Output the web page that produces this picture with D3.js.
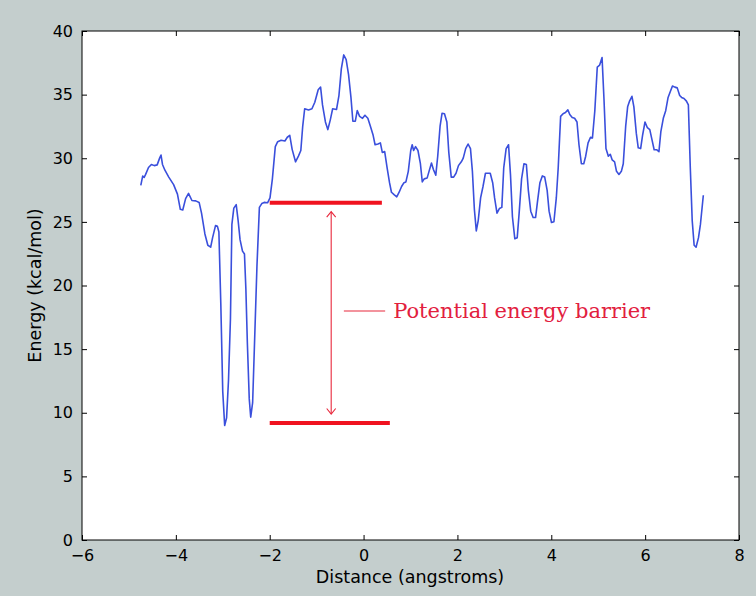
<!DOCTYPE html>
<html>
<head>
<meta charset="utf-8">
<script src="https://cdn.jsdelivr.net/npm/d3@7"></script>
<style>
  html, body { margin: 0; padding: 0; background: #c4cecd; }
  svg { display: block; }
</style>
</head>
<body>
<script>
// ---- Data ----
const distance = [
  -4.747,-4.706,-4.675,-4.644,-4.583,-4.521,-4.459,-4.398,-4.346,-4.316,-4.285,-4.233,-4.151,-4.048,-3.966,-3.905,-3.853,-3.792,-3.730,-3.658,
  -3.576,-3.504,-3.453,-3.381,-3.319,-3.258,-3.217,-3.155,-3.114,-3.083,-3.042,-3.001,-2.960,-2.919,-2.878,-2.837,-2.806,-2.765,-2.714,-2.673,
  -2.632,-2.580,-2.538,-2.508,-2.477,-2.436,-2.405,-2.364,-2.323,-2.272,-2.220,-2.169,-2.118,-2.046,-1.994,-1.943,-1.881,-1.830,-1.758,-1.676,
  -1.625,-1.573,-1.522,-1.450,-1.388,-1.337,-1.296,-1.255,-1.173,-1.100,-1.039,-0.967,-0.916,-0.875,-0.813,-0.762,-0.710,-0.659,-0.577,-0.525,
  -0.474,-0.423,-0.371,-0.320,-0.269,-0.228,-0.176,-0.135,-0.084,-0.022,0.029,0.091,0.142,0.204,0.245,0.307,0.358,0.399,0.450,0.501,
  0.553,0.594,0.656,0.707,0.758,0.810,0.861,0.902,0.953,1.005,1.036,1.067,1.108,1.159,1.211,1.251,1.292,1.354,1.395,1.447,
  1.488,1.539,1.580,1.631,1.672,1.724,1.775,1.816,1.868,1.919,1.970,2.022,2.083,2.124,2.176,2.227,2.278,2.319,2.361,2.402,
  2.443,2.494,2.545,2.597,2.648,2.699,2.751,2.792,2.843,2.894,2.946,2.987,3.038,3.089,3.131,3.172,3.223,3.274,3.315,3.367,
  3.418,3.469,3.511,3.562,3.613,3.665,3.706,3.758,3.809,3.860,3.912,3.953,4.004,4.056,4.107,4.148,4.199,4.251,4.302,4.353,
  4.394,4.446,4.497,4.548,4.590,4.641,4.692,4.733,4.784,4.836,4.877,4.928,4.980,5.031,5.082,5.123,5.165,5.216,5.257,5.298,
  5.349,5.390,5.442,5.493,5.534,5.586,5.627,5.668,5.719,5.760,5.812,5.853,5.904,5.945,5.997,6.048,6.099,6.151,6.192,6.243,
  6.294,6.335,6.387,6.438,6.489,6.541,6.582,6.633,6.684,6.736,6.777,6.828,6.880,6.921,6.962,7.003,7.044,7.085,7.137,7.178,
  7.240
];
const energy = [
  27.87,28.61,28.49,28.73,29.27,29.51,29.42,29.48,30.01,30.25,29.51,29.06,28.52,27.93,27.18,25.99,25.93,26.83,27.24,26.68,
  26.65,26.53,25.69,24.05,23.16,23.01,23.76,24.71,24.65,24.20,18.54,11.68,9.00,9.60,12.58,17.35,24.80,26.08,26.35,25.10,
  23.60,22.70,22.47,19.73,15.56,11.09,9.66,10.79,15.56,21.52,26.14,26.44,26.53,26.50,26.88,28.38,30.91,31.30,31.42,31.36,
  31.65,31.80,30.70,29.72,30.17,30.61,32.55,33.89,33.80,33.89,34.40,35.38,35.59,34.19,32.85,32.25,33.00,33.89,33.83,34.93,
  37.02,38.12,37.76,36.57,34.78,32.91,32.91,33.74,33.29,33.14,33.38,33.14,32.55,31.80,31.06,31.12,31.21,30.46,30.52,29.27,
  28.08,27.33,27.12,26.97,27.33,27.78,28.08,28.14,28.97,30.61,31.06,30.61,30.91,30.61,29.57,28.14,28.38,28.44,28.97,29.63,
  29.12,28.67,30.16,32.55,33.53,33.50,32.85,30.46,28.52,28.52,28.82,29.42,29.72,30.01,30.76,31.12,30.76,28.97,25.99,24.29,
  25.10,26.88,27.78,28.82,28.82,28.82,28.08,26.88,25.69,26.05,26.14,29.27,30.76,31.06,28.67,25.40,23.67,23.76,25.69,28.38,
  29.57,29.51,27.48,25.84,25.34,25.34,26.59,28.08,28.61,28.52,27.48,25.84,24.95,25.01,26.88,29.27,33.29,33.50,33.59,33.80,
  33.44,33.20,33.14,32.85,31.06,29.57,29.57,30.16,31.21,31.65,31.59,33.74,37.17,37.32,37.91,34.63,30.76,30.16,30.31,29.87,
  29.72,28.97,28.73,28.97,29.57,32.55,34.04,34.49,34.87,34.04,31.95,30.82,30.76,31.80,32.85,32.40,32.25,31.36,30.67,30.67,
  30.52,32.10,33.14,33.74,34.78,35.29,35.68,35.59,35.53,34.93,34.78,34.69,34.49,34.19,29.27,25.10,23.16,23.01,23.76,24.80,
  27.09
];
const xTicks = [-6, -4, -2, 0, 2, 4, 6, 8];
const yTicks = [0, 5, 10, 15, 20, 25, 30, 35, 40];
const barrierLevels = [26.5, 9.2];           // top & bottom energy levels
const barrierStart = [-2.0, -2.0];
const barrierEnd = [0.39, 0.56];
const arrowX = -0.69;
const arrowRange = [25.8, 9.9];
const labelY = 18.0;
const labelLine = [-0.42, 0.46];
const labelText = "Potential energy barrier";
const xLabel = "Distance (angstroms)";
const yLabel = "Energy (kcal/mol)";

// ---- Layout ----
const W = 756, H = 596;
const mLeft = 82, mRight = 739, mTop = 31, mBottom = 540;

const svg = d3.select("body").append("svg").attr("width", W).attr("height", H);

const x = d3.scaleLinear().domain([-6, 8]).range([mLeft, mRight]);
const y = d3.scaleLinear().domain([0, 40]).range([mBottom, mTop]);

svg.append("rect").attr("x", mLeft).attr("y", mTop)
  .attr("width", mRight - mLeft).attr("height", mBottom - mTop)
  .attr("fill", "#ffffff");

const fmt = d => d < 0 ? "\u2212" + Math.abs(d) : String(d);
const tickFont = "DejaVu Sans, sans-serif";

// axes (ticks inward, matplotlib classic)
const axB = svg.append("g").attr("transform", `translate(0,${mBottom})`)
  .call(d3.axisBottom(x).tickValues(xTicks).tickSizeInner(-5).tickSizeOuter(0).tickPadding(10).tickFormat(fmt));
const axT = svg.append("g").attr("transform", `translate(0,${mTop})`)
  .call(d3.axisTop(x).tickValues(xTicks).tickSizeInner(-5).tickSizeOuter(0).tickFormat(""));
const axL = svg.append("g").attr("transform", `translate(${mLeft},0)`)
  .call(d3.axisLeft(y).tickValues(yTicks).tickSizeInner(-5).tickSizeOuter(0).tickPadding(9).tickFormat(fmt));
const axR = svg.append("g").attr("transform", `translate(${mRight},0)`)
  .call(d3.axisRight(y).tickValues(yTicks).tickSizeInner(-5).tickSizeOuter(0).tickFormat(""));

[axB, axT, axL, axR].forEach(g => {
  g.select(".domain").remove();
  g.selectAll(".tick line").attr("stroke", "#000").attr("stroke-width", 1);
  g.selectAll("text").attr("font-family", tickFont).attr("font-size", 16).attr("fill", "#000");
});

// data line
const line = d3.line().x((d, i) => x(distance[i])).y(d => y(d));
svg.append("path").datum(energy)
  .attr("d", line)
  .attr("fill", "none")
  .attr("stroke", "#3a4fdc")
  .attr("stroke-width", 1.6)
  .attr("stroke-linejoin", "round");

// barrier level lines
barrierLevels.forEach((lv, i) => {
  svg.append("line")
    .attr("x1", x(barrierStart[i])).attr("x2", x(barrierEnd[i]))
    .attr("y1", y(lv)).attr("y2", y(lv))
    .attr("stroke", "#f0121f").attr("stroke-width", 4);
});

// double arrow
const red2 = "#e8283c";
const ax = x(arrowX), ay1 = y(arrowRange[0]), ay2 = y(arrowRange[1]);
svg.append("line").attr("x1", ax).attr("x2", ax).attr("y1", ay1).attr("y2", ay2)
  .attr("stroke", red2).attr("stroke-width", 1.1);
svg.append("path")
  .attr("d", `M${ax-4.5},${ay1+5.5}L${ax},${ay1}L${ax+4.5},${ay1+5.5}M${ax-4.5},${ay2-5.5}L${ax},${ay2}L${ax+4.5},${ay2-5.5}`)
  .attr("fill", "none").attr("stroke", red2).attr("stroke-width", 1.1);

// annotation
svg.append("line")
  .attr("x1", x(labelLine[0])).attr("x2", x(labelLine[1]))
  .attr("y1", y(labelY)).attr("y2", y(labelY))
  .attr("stroke", red2).attr("stroke-width", 1.1);
svg.append("text")
  .attr("x", x(labelLine[1]) + 8).attr("y", y(labelY) + 7)
  .attr("font-family", "DejaVu Serif, serif").attr("font-size", 21)
  .attr("fill", "#e2203e")
  .text(labelText);

// frame
svg.append("rect").attr("x", mLeft).attr("y", mTop)
  .attr("width", mRight - mLeft).attr("height", mBottom - mTop)
  .attr("fill", "none").attr("stroke", "#000").attr("stroke-width", 1);

// axis labels
svg.append("text").attr("x", 410).attr("y", 583)
  .attr("text-anchor", "middle").attr("font-family", tickFont).attr("font-size", 17.5)
  .text(xLabel);
svg.append("text").attr("transform", `translate(41,${285.5}) rotate(-90)`)
  .attr("text-anchor", "middle").attr("font-family", tickFont).attr("font-size", 17.5)
  .text(yLabel);
</script>
</body>
</html>
